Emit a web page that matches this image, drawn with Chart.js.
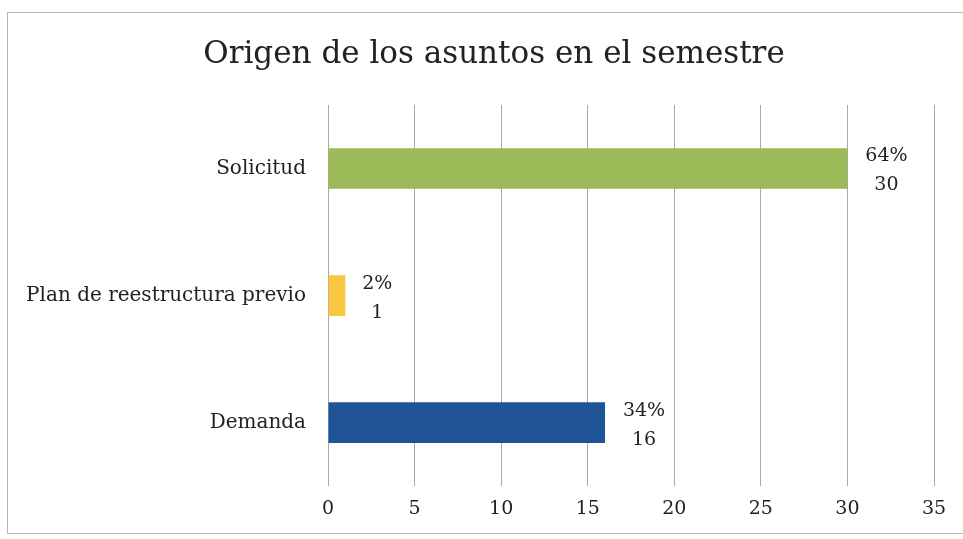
<!DOCTYPE html>
<html>
<head>
<meta charset="utf-8">
<script src="https://cdn.jsdelivr.net/npm/chart.js@4"></script>
<style>
	html, body { margin: 0; padding: 0; background: #fff; }
	#wrap { position: relative; width: 963px; height: 539px; }
</style>
</head>
<body>
<div id="wrap"><canvas id="origen-canvas"></canvas></div>
<script>
// datos
const titulo = "Origen de los asuntos en el semestre";
const categorias = ["Solicitud", "Plan de reestructura previo", "Demanda"];
const asuntos = [30, 1, 16];
const porcentajes = ["64%", "2%", "34%"];
const coloresBarras = ["#9BBB59", "#F8C640", "#1F5597"];
const ticksX = [0, 5, 10, 15, 20, 25, 30, 35];

const fuente = "'DejaVu Serif', Georgia, serif";

// marco gris y titulo (el titulo va algo a la derecha del centro)
const marco = {
	id: "marco",
	beforeDraw(chart) {
		const ctx = chart.ctx;
		ctx.save();
		ctx.fillStyle = "#fff";
		ctx.fillRect(0, 0, chart.width, chart.height);
		ctx.strokeStyle = "#b5b5b5";
		ctx.lineWidth = 1;
		ctx.strokeRect(7.5, 12.5, 1000, 521);
		ctx.font = "31px " + fuente;
		ctx.fillStyle = "#222";
		ctx.textAlign = "center";
		ctx.textBaseline = "middle";
		ctx.fillText(titulo, 494, 55);
		ctx.restore();
	}
};

// etiquetas "64%" / "30" a la derecha de cada barra
const etiquetas = {
	id: "etiquetas",
	afterDatasetsDraw(chart) {
		const ctx = chart.ctx;
		const meta = chart.getDatasetMeta(0);
		ctx.save();
		ctx.font = "19px " + fuente;
		ctx.fillStyle = "#222";
		ctx.textAlign = "center";
		ctx.textBaseline = "middle";
		meta.data.forEach((bar, i) => {
			const off = String(asuntos[i]).length > 1 ? 39 : 32;
			ctx.fillText(porcentajes[i], bar.x + off, bar.y - 12);
			ctx.fillText(String(asuntos[i]), bar.x + off, bar.y + 17);
		});
		ctx.restore();
	}
};

new Chart("origen-canvas", {
	type: "bar",
	data: {
		labels: categorias,
		datasets: [
			{
				data: asuntos,
				backgroundColor: coloresBarras,
				borderWidth: 0,
				categoryPercentage: 0.8,
				barPercentage: 0.4
			}
		]
	},
	options: {
		indexAxis: "y",
		responsive: true,
		maintainAspectRatio: false,
		animation: false,
		layout: {
			padding: { left: 8, right: 29, top: 105, bottom: 8 }
		},
		scales: {
			x: {
				min: 0,
				max: 35,
				afterBuildTicks: (scale) => {
					scale.ticks = ticksX.map(v => ({ value: v }));
				},
				grid: {
					color: "#a8a8a8",
					lineWidth: 1,
					drawTicks: false
				},
				border: { display: false },
				ticks: {
					padding: 11,
					color: "#222",
					font: { family: fuente, size: 19 }
				}
			},
			y: {
				grid: { display: false, drawTicks: false },
				border: { display: false },
				afterFit: (scale) => { scale.width = 320; },
				ticks: {
					padding: 22,
					color: "#222",
					font: { family: fuente, size: 20 }
				}
			}
		},
		plugins: {
			tooltip: { enabled: false },
			legend: { display: false },
			title: { display: false }
		}
	},
	plugins: [marco, etiquetas]
});
</script>
</body>
</html>
